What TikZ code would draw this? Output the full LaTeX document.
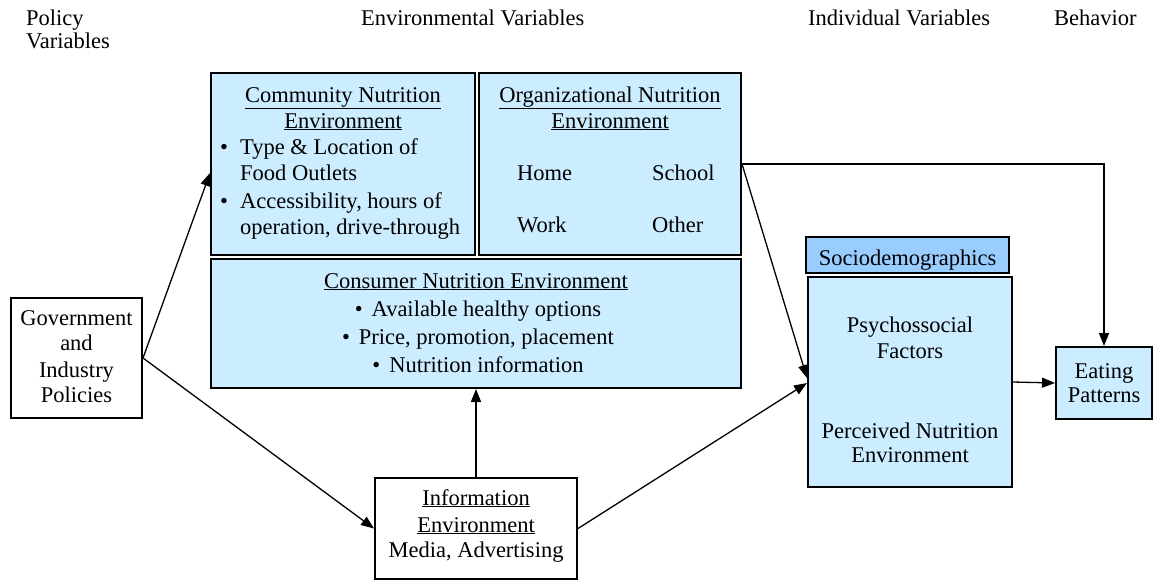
\documentclass[tikz,border=0pt]{standalone}
\usepackage{fontspec}
\setmainfont{Liberation Serif}
\usetikzlibrary{arrows.meta}
\definecolor{lblue}{RGB}{204,236,255}
\definecolor{mblue}{RGB}{153,204,255}
\begin{document}
\begin{tikzpicture}[x=1pt,y=-1pt,
  font=\fontsize{22.5}{26}\selectfont,
  box/.style={draw, line width=2pt, inner sep=0pt},
  txt/.style={inner sep=0pt, anchor=base},
  txtl/.style={inner sep=0pt, anchor=base west},
  arr/.style={line width=1.3pt, -{Triangle[length=13pt,width=10pt]}}]
\useasboundingbox (0,0) rectangle (1155,582);
% boxes
\node[box, fill=lblue, minimum width=264pt, minimum height=182pt] (comm) at (343,164) {};
\node[box, fill=lblue, minimum width=262pt, minimum height=182pt] (org) at (610,164) {};
\node[box, fill=lblue, minimum width=530pt, minimum height=129pt] (cons) at (476,323.5) {};
\node[box, fill=white, minimum width=131pt, minimum height=120pt] (gov) at (76.5,358) {};
\node[box, fill=white, minimum width=202pt, minimum height=101pt] (info) at (476,528.5) {};
\node[box, fill=mblue, minimum width=203pt, minimum height=36pt] (socio) at (907.5,255) {};
\node[box, fill=lblue, minimum width=204pt, minimum height=210pt] (psych) at (910,382) {};
\node[box, fill=lblue, minimum width=96pt, minimum height=72pt] (eat) at (1104,383) {};
% column headings
\node[txtl] (h1) at (26,25) {Policy};
\node[txtl] (h2) at (26,48) {Variables};
\node[txtl] (h3) at (361,25) {Environmental Variables};
\node[txtl] (h4) at (808,25) {Individual Variables};
\node[txtl] (h5) at (1054,25) {Behavior};
% community
\node[txt] (c1) at (343,102) {\underline{Community Nutrition}};
\node[txt] (c2) at (343,128) {\underline{Environment}};
\node[txt] (cb1) at (224,154) {\textbullet};
\node[txtl] (c3) at (240,154) {Type \& Location of};
\node[txtl] (c4) at (240,180) {Food Outlets};
\node[txt] (cb2) at (224,208) {\textbullet};
\node[txtl] (c5) at (240,208) {Accessibility, hours of};
\node[txtl] (c6) at (240,234) {operation, drive-through};
% organizational
\node[txt] (o1) at (610,102) {\underline{Organizational Nutrition}};
\node[txt] (o2) at (610,128) {\underline{Environment}};
\node[txtl] (o3) at (517,180) {Home};
\node[txtl] (o4) at (652,180) {School};
\node[txtl] (o5) at (517,232) {Work};
\node[txtl] (o6) at (652,232) {Other};
% consumer
\node[txt] (k1) at (476,288) {\underline{Consumer Nutrition Environment}};
\node[txt] (k2) at (478,316) {\textbullet\hspace{9pt}Available healthy options};
\node[txt] (k3) at (478,344) {\textbullet\hspace{9pt}Price, promotion, placement};
\node[txt] (k4) at (478,372) {\textbullet\hspace{9pt}Nutrition information};
% government
\node[txt] (g1) at (76.5,325) {Government};
\node[txt] (g2) at (76.5,350) {and};
\node[txt] (g3) at (76.5,377) {Industry};
\node[txt] (g4) at (76.5,402) {Policies};
% information
\node[txt] (i1) at (476,505) {\underline{Information}};
\node[txt] (i2) at (476,532) {\underline{Environment}};
\node[txt] (i3) at (476,557) {Media, Advertising};
% individual
\node[txt] (s1) at (907.5,265) {Sociodemographics};
\node[txt] (p1) at (910,332) {Psychossocial};
\node[txt] (p2) at (910,358) {Factors};
\node[txt] (p3) at (910,438) {Perceived Nutrition};
\node[txt] (p4) at (910,462) {Environment};
% eating
\node[txt] (e1) at (1104,378) {Eating};
\node[txt] (e2) at (1104,402) {Patterns};
% connectors
\draw[arr] (gov.east) -- ([yshift=-9pt]comm.west);
\draw[arr] (gov.east) -- (info.west);
\draw[arr] (info.north) -- (cons.south);
\draw[arr] (info.east) -- ([yshift=-1pt]psych.west);
\draw[arr] (org.east) -- ([yshift=4pt]psych.west);
\draw[arr] (org.east) -| (eat.north);
\draw[arr] (psych.east) -- (eat.west);
\end{tikzpicture}
\end{document}
